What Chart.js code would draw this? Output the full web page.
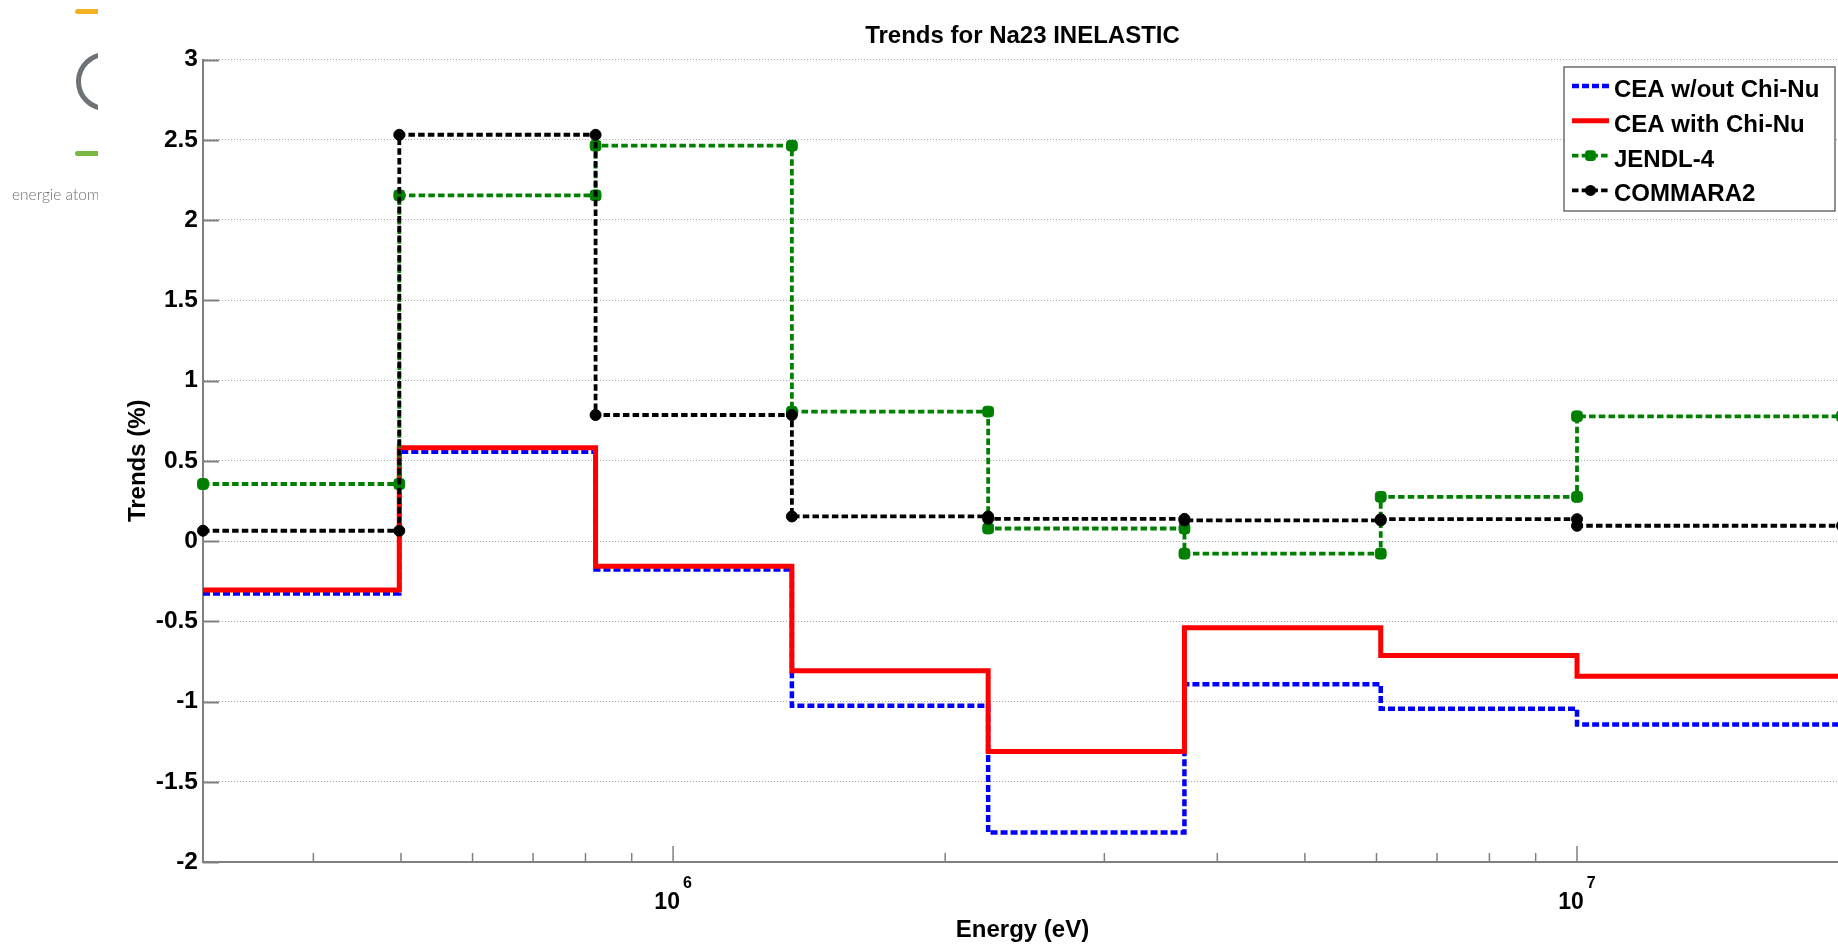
<!DOCTYPE html>
<html>
<head>
<meta charset="utf-8">
<title>Trends for Na23 INELASTIC</title>
<script src="https://cdn.jsdelivr.net/npm/chart.js@4.4.1/dist/chart.umd.min.js"></script>
<style>
    html, body{
        margin: 0;
        padding: 0;
        background: #ffffff;
        width: 1838px;
        height: 945px;
        overflow: hidden;
    }
    #moldura{
        position: absolute;
        left: 0;
        top: 0;
        width: 1850px;
        height: 945px;
    }
    #logo{
        position: absolute;
        left: 0;
        top: 0;
        width: 98px;
        height: 215px;
        overflow: hidden;
    }
    #logo .laranja{
        position: absolute; left: 75px; top: 9px;
        width: 40px; height: 5px; border-radius: 3px;
        background: #f4b223;
    }
    #logo .anel{
        position: absolute; left: 76px; top: 52px;
        width: 49px; height: 49px;
        border: 5px solid #6d7277; border-radius: 50%;
    }
    #logo .verde{
        position: absolute; left: 75px; top: 151px;
        width: 40px; height: 5px; border-radius: 3px;
        background: #78b743;
    }
    #logo .texto{
        position: absolute; left: 12px; top: 186px;
        font: 300 15.5px Lato, "Open Sans", sans-serif;
        line-height: 16px;
        color: #6a6d70;
        white-space: nowrap;
    }
</style>
</head>
<body>

<div id="moldura">
    <canvas id="graficoTrends" width="1850" height="945"></canvas>
</div>

<div id="logo">
    <div class="laranja"></div>
    <div class="anel"></div>
    <div class="verde"></div>
    <div class="texto">energie atomique</div>
</div>

<script>
// =====================================================
// DADOS - TRENDS Na23 INELASTIC
// =====================================================

// limites dos grupos de energia (eV)
const limitesEnergia = [3.0197e5, 4.9787e5, 8.2085e5, 1.3534e6, 2.2313e6, 3.6788e6, 6.0653e6, 1.0e7, 1.9640e7];

const nomesSeries = ["CEA w/out Chi-Nu", "CEA with Chi-Nu", "JENDL-4", "COMMARA2"];

// valores por grupo (%)
const ceaSemChiNu = [-0.327, 0.556, -0.178, -1.026, -1.816, -0.893, -1.045, -1.144];
const ceaComChiNu = [-0.306, 0.581, -0.157, -0.809, -1.311, -0.540, -0.713, -0.842];
const jendl4 = [0.355, 2.154, 2.463, 0.806, 0.078, -0.079, 0.275, 0.777];
const commara2 = [0.064, 2.531, 0.785, 0.153, 0.138, 0.128, 0.136, 0.095];

// ticks
const ticksY = [-2, -1.5, -1, -0.5, 0, 0.5, 1, 1.5, 2, 2.5, 3];
const ticksXMaiores = [1e6, 1e7];
const rotulosXBase = ["10", "10"];
const rotulosXExpoente = ["6", "7"];
const ticksXMenores = [4e5, 5e5, 6e5, 7e5, 8e5, 9e5, 2e6, 3e6, 4e6, 5e6, 6e6, 7e6, 8e6, 9e6];

const FONTE = "'Liberation Sans', Arial, Helvetica, sans-serif";
const CINZA_EIXO = "#808080";

// =====================================================
// ESCADA: pontos nos dois cantos de cada grupo
// =====================================================

function escada(valores){

    const pontos = [];

    valores.forEach((v, i) => {
        pontos.push({ x: limitesEnergia[i], y: v });
        pontos.push({ x: limitesEnergia[i + 1], y: v });
    });

    return pontos;

}

// =====================================================
// PLUGIN - TICKS PARA DENTRO + RÓTULOS 10^n
// =====================================================

const ticksInternos = {

    id: "ticksInternos",

    beforeDatasetsDraw(chart){

        const { ctx, chartArea: a, scales: { x, y } } = chart;

        ctx.save();
        ctx.strokeStyle = CINZA_EIXO;

        // ticks do eixo y
        ctx.lineWidth = 2;
        ticksY.forEach(v => {
            const py = Math.round(y.getPixelForValue(v)) + 0.5;
            ctx.beginPath();
            ctx.moveTo(a.left, py);
            ctx.lineTo(a.left + 16, py);
            ctx.stroke();
        });

        // ticks do eixo x
        ctx.lineWidth = 1.5;
        ticksXMenores.forEach(v => {
            const px = x.getPixelForValue(v);
            ctx.beginPath();
            ctx.moveTo(px, a.bottom);
            ctx.lineTo(px, a.bottom - 9);
            ctx.stroke();
        });
        ticksXMaiores.forEach(v => {
            const px = x.getPixelForValue(v);
            ctx.beginPath();
            ctx.moveTo(px, a.bottom);
            ctx.lineTo(px, a.bottom - 16);
            ctx.stroke();
        });

        // rótulos 10^n
        ctx.fillStyle = "#000000";
        ctx.textBaseline = "alphabetic";
        ctx.textAlign = "left";
        ticksXMaiores.forEach((v, i) => {
            const px = x.getPixelForValue(v);
            ctx.font = "bold 23px " + FONTE;
            const w1 = ctx.measureText(rotulosXBase[i]).width;
            ctx.font = "bold 16px " + FONTE;
            const w2 = ctx.measureText(rotulosXExpoente[i]).width;
            const inicio = px - (w1 + 3 + w2) / 2;
            ctx.font = "bold 23px " + FONTE;
            ctx.fillText(rotulosXBase[i], inicio, 909);
            ctx.font = "bold 16px " + FONTE;
            ctx.fillText(rotulosXExpoente[i], inicio + w1 + 3, 888);
        });

        ctx.restore();

    }

};

// =====================================================
// PLUGIN - LEGENDA DENTRO DO GRÁFICO
// =====================================================

function desenharMarcador(ctx, ds, cx, cy){

    if(!ds.pointRadius) return;

    const r = ds.pointRadius;
    ctx.save();
    ctx.setLineDash([]);
    ctx.fillStyle = ds.pointBackgroundColor;
    ctx.beginPath();
    if(ds.pointStyle === "rectRounded"){
        const lado = r * 1.7;
        ctx.roundRect(cx - lado / 2, cy - lado / 2, lado, lado, r * 0.5);
    } else {
        ctx.arc(cx, cy, r, 0, Math.PI * 2);
    }
    ctx.fill();
    ctx.restore();

}

const legendaInterna = {

    id: "legendaInterna",

    afterDraw(chart){

        const ctx = chart.ctx;
        const caixa = { x: 1564, y: 67, w: 271, h: 144 };

        ctx.save();

        ctx.fillStyle = "#ffffff";
        ctx.fillRect(caixa.x, caixa.y, caixa.w, caixa.h);
        ctx.strokeStyle = "#6e6e6e";
        ctx.lineWidth = 1.5;
        ctx.strokeRect(caixa.x, caixa.y, caixa.w, caixa.h);

        chart.data.datasets.forEach((ds, i) => {

            const yLinha = 86 + 34.8 * i;

            ctx.strokeStyle = ds.borderColor;
            ctx.lineWidth = ds.borderWidth;
            ctx.setLineDash(ds.borderDash || []);
            ctx.beginPath();
            ctx.moveTo(1572, yLinha);
            ctx.lineTo(1609, yLinha);
            ctx.stroke();

            desenharMarcador(ctx, ds, 1590.5, yLinha);

            ctx.setLineDash([]);
            ctx.fillStyle = "#000000";
            ctx.font = "bold 24px " + FONTE;
            ctx.textBaseline = "alphabetic";
            ctx.textAlign = "left";
            ctx.fillText(ds.label, 1614, 97 + 34.8 * i);

        });

        ctx.restore();

    }

};

// =====================================================
// CRIAR GRÁFICO
// =====================================================

function criarGrafico(){

    const canvas = document.getElementById("graficoTrends");

    Chart.defaults.font.family = FONTE;

    new Chart(canvas, {

        type: "line",

        data: {

            datasets: [

                {
                    label: nomesSeries[0],
                    data: escada(ceaSemChiNu),
                    borderColor: "#0000ff",
                    borderWidth: 4.5,
                    borderDash: [7, 3],
                    pointRadius: 0,
                    order: 4
                },

                {
                    label: nomesSeries[1],
                    data: escada(ceaComChiNu),
                    borderColor: "#ff0000",
                    borderWidth: 5,
                    pointRadius: 0,
                    order: 3
                },

                {
                    label: nomesSeries[2],
                    data: escada(jendl4),
                    borderColor: "#008000",
                    borderWidth: 3.8,
                    borderDash: [6.5, 3.2],
                    pointStyle: "rectRounded",
                    pointRadius: 6.3,
                    pointBackgroundColor: "#008000",
                    pointBorderColor: "#008000",
                    pointBorderWidth: 1,
                    order: 2
                },

                {
                    label: nomesSeries[3],
                    data: escada(commara2),
                    borderColor: "#000000",
                    borderWidth: 3.8,
                    borderDash: [6.5, 3.2],
                    pointStyle: "circle",
                    pointRadius: 5.5,
                    pointBackgroundColor: "#000000",
                    pointBorderColor: "#000000",
                    pointBorderWidth: 1,
                    order: 1
                }

            ]

        },

        options: {

            responsive: false,
            animation: false,
            devicePixelRatio: 1,

            layout: {
                padding: { left: 0, right: 8, top: 0, bottom: 0 }
            },

            elements: {
                line: { tension: 0, borderCapStyle: "butt", borderJoinStyle: "miter" }
            },

            datasets: {
                line: { clip: false }
            },

            plugins: {

                legend: { display: false },

                tooltip: { enabled: false },

                title: {
                    display: true,
                    fullSize: false,
                    text: "Trends for Na23 INELASTIC",
                    color: "#000000",
                    font: { size: 24, weight: "bold", lineHeight: 1.2 },
                    padding: { top: 21.6, bottom: 9.1 }
                }

            },

            scales: {

                x: {
                    type: "logarithmic",
                    min: limitesEnergia[0],
                    max: limitesEnergia[limitesEnergia.length - 1],
                    grid: { display: false },
                    border: { color: CINZA_EIXO, width: 2 },
                    ticks: { display: false },
                    title: {
                        display: true,
                        text: "Energy (eV)",
                        color: "#000000",
                        font: { size: 24, weight: "bold", lineHeight: 1.2 },
                        padding: { top: 0, bottom: 0 }
                    },
                    afterFit: s => { s.height = 83; }
                },

                y: {
                    min: -2,
                    max: 3,
                    afterBuildTicks: s => { s.ticks = ticksY.map(v => ({ value: v })); },
                    ticks: {
                        color: "#000000",
                        font: { size: 24.5, weight: "bold" },
                        padding: 5,
                        callback: v => String(v)
                    },
                    grid: {
                        color: "#a8a8a8",
                        lineWidth: 1,
                        drawTicks: false
                    },
                    border: { color: CINZA_EIXO, width: 2, dash: [1, 2] },
                    title: {
                        display: true,
                        text: "Trends (%)",
                        color: "#000000",
                        font: { size: 24, weight: "bold", lineHeight: 1.2 },
                        padding: { top: 123.6, bottom: 0 }
                    },
                    afterFit: s => { s.width = 203; }
                }

            }

        },

        plugins: [ticksInternos, legendaInterna]

    });

}

criarGrafico();
</script>

</body>
</html>
